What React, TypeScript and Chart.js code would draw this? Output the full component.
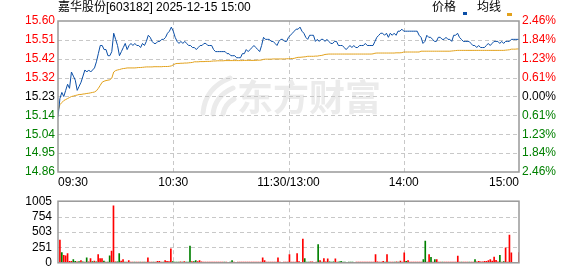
import React, { useEffect, useRef } from 'react';
import { Chart, registerables } from 'chart.js';

Chart.register(...registerables);

const FONT = '"Liberation Sans", Arial, "Noto Sans CJK SC", sans-serif';

const TITLE = '嘉华股份[603182] 2025-12-15 15:00';
const LEGEND_PRICE = '价格';
const LEGEND_AVG = '均线';
const WATERMARK = '东方财富';

const timeTickValues = [0, 60, 120, 180, 240];
const timeTickLabels = ['09:30', '10:30', '11:30/13:00', '14:00', '15:00'];

const priceMin = 14.86;
const priceMax = 15.6;
const priceTickLabels = ['14.86', '14.95', '15.04', '15.14', '15.23', '15.32', '15.42', '15.51', '15.60'];
const pctTickLabels = ['2.46%', '1.84%', '1.23%', '0.61%', '0.00%', '0.61%', '1.23%', '1.84%', '2.46%'];

const volMax = 1005;
const volTickLabels = ['0', '251', '503', '754', '1005'];

const prices = [
  15.13, 15.22, 15.25, 15.23, 15.26, 15.29, 15.27, 15.35, 15.33, 15.31,
  15.26, 15.28, 15.30, 15.33, 15.36, 15.35, 15.36, 15.35, 15.36, 15.37,
  15.40, 15.44, 15.48, 15.48, 15.46, 15.46, 15.43, 15.43, 15.45, 15.54,
  15.51, 15.48, 15.43, 15.45, 15.47, 15.49, 15.46, 15.48, 15.49, 15.48,
  15.49, 15.48, 15.48, 15.47, 15.49, 15.48, 15.50, 15.53, 15.52, 15.50,
  15.49, 15.49, 15.50, 15.50, 15.51, 15.51, 15.52, 15.54, 15.55, 15.57,
  15.55, 15.52, 15.50, 15.49, 15.50, 15.49, 15.50, 15.49, 15.48, 15.48,
  15.47, 15.47, 15.46, 15.47, 15.48, 15.48, 15.49, 15.49, 15.48, 15.48,
  15.48, 15.46, 15.45, 15.45, 15.45, 15.45, 15.45, 15.45, 15.44, 15.44,
  15.43, 15.43, 15.43, 15.42, 15.42, 15.42, 15.44, 15.44, 15.46, 15.45,
  15.46, 15.47, 15.48, 15.47, 15.46, 15.45, 15.48, 15.52, 15.51, 15.51,
  15.51, 15.50, 15.50, 15.49, 15.48, 15.50, 15.51, 15.51, 15.50, 15.50,
  15.52, 15.53, 15.54, 15.55, 15.56, 15.56, 15.57, 15.55, 15.54, 15.52,
  15.51, 15.53, 15.53, 15.53, 15.50, 15.51, 15.50, 15.51, 15.51, 15.50,
  15.51, 15.50, 15.49, 15.49, 15.50, 15.50, 15.48, 15.48, 15.48, 15.47,
  15.46, 15.47, 15.48, 15.47, 15.48, 15.47, 15.47, 15.48, 15.48, 15.48,
  15.49, 15.48, 15.48, 15.48, 15.48, 15.50, 15.52, 15.53, 15.54, 15.54,
  15.53, 15.54, 15.52, 15.54, 15.53, 15.54, 15.53, 15.55, 15.55, 15.56,
  15.55, 15.55, 15.55, 15.55, 15.55, 15.55, 15.55, 15.55, 15.53, 15.52,
  15.49, 15.50, 15.53, 15.52, 15.52, 15.51, 15.50, 15.50, 15.52, 15.52,
  15.51, 15.51, 15.52, 15.51, 15.51, 15.50, 15.53, 15.53, 15.54, 15.52,
  15.51, 15.50, 15.50, 15.50, 15.50, 15.49, 15.48, 15.48, 15.47, 15.48,
  15.47, 15.47, 15.47, 15.48, 15.49, 15.48, 15.49, 15.50, 15.50, 15.50,
  15.49, 15.50, 15.49, 15.50, 15.50, 15.50, 15.51, 15.51, 15.51, 15.51, 15.51,
];

const avgPrices = [
  15.16, 15.19, 15.2, 15.21, 15.215, 15.22, 15.225, 15.23, 15.232, 15.235,
  15.237, 15.24, 15.24, 15.242, 15.243, 15.245, 15.246, 15.248, 15.25, 15.252,
  15.258, 15.27, 15.285, 15.3, 15.305, 15.308, 15.31, 15.312, 15.32, 15.35,
  15.357, 15.36, 15.362, 15.365, 15.367, 15.368, 15.37, 15.37, 15.37, 15.37,
  15.37, 15.371, 15.372, 15.372, 15.373, 15.374, 15.375, 15.375, 15.375, 15.375,
  15.376, 15.376, 15.376, 15.376, 15.376, 15.377, 15.377, 15.377, 15.378, 15.38,
  15.385, 15.39, 15.392, 15.392, 15.393, 15.393, 15.394, 15.394, 15.395, 15.396,
  15.397, 15.4, 15.4, 15.4, 15.401, 15.401, 15.401, 15.402, 15.402, 15.402,
  15.403, 15.404, 15.404, 15.405, 15.405, 15.405, 15.405, 15.406, 15.406, 15.406,
  15.406, 15.406, 15.406, 15.406, 15.406, 15.406, 15.406, 15.407, 15.407, 15.407,
  15.407, 15.407, 15.407, 15.407, 15.408, 15.408, 15.409, 15.412, 15.413, 15.413,
  15.413, 15.413, 15.414, 15.414, 15.414, 15.414, 15.414, 15.414, 15.414, 15.415,
  15.415, 15.416, 15.416, 15.417, 15.42, 15.422, 15.422, 15.423, 15.424, 15.425,
  15.427, 15.427, 15.427, 15.427, 15.428, 15.428, 15.43, 15.431, 15.433, 15.436,
  15.437, 15.438, 15.438, 15.438, 15.438, 15.438, 15.438, 15.438, 15.438, 15.438,
  15.438, 15.438, 15.438, 15.438, 15.438, 15.438, 15.438, 15.438, 15.438, 15.438,
  15.438, 15.438, 15.438, 15.438, 15.439, 15.442, 15.443, 15.443, 15.443, 15.443,
  15.443, 15.443, 15.443, 15.443, 15.443, 15.443, 15.444, 15.444, 15.444, 15.445,
  15.448, 15.448, 15.448, 15.448, 15.448, 15.448, 15.448, 15.448, 15.448, 15.452,
  15.452, 15.452, 15.452, 15.452, 15.452, 15.452, 15.452, 15.452, 15.452, 15.452,
  15.452, 15.452, 15.452, 15.452, 15.452, 15.453, 15.454, 15.455, 15.456, 15.456,
  15.456, 15.456, 15.456, 15.456, 15.456, 15.456, 15.456, 15.456, 15.456, 15.456,
  15.456, 15.456, 15.456, 15.456, 15.456, 15.456, 15.456, 15.456, 15.456, 15.456,
  15.456, 15.456, 15.456, 15.457, 15.458, 15.459, 15.462, 15.462, 15.462, 15.463, 15.463,
];

const volumes = [
  371, 167, 122, 113, 149, 25, 25, 54, 25, 15,
  20, 36, 15, 10, 81, 15, 68, 20, 30, 15,
  136, 68, 68, 27, 12, 12, 113, 190, 928, 15,
  15, 149, 30, 54, 12, 12, 36, 12, 12, 12,
  12, 12, 12, 12, 12, 12, 81, 12, 12, 12,
  12, 25, 25, 12, 12, 36, 25, 20, 227, 20,
  12, 12, 12, 15, 12, 20, 12, 12, 272, 20,
  20, 36, 20, 36, 15, 12, 12, 12, 12, 12,
  12, 12, 12, 12, 12, 12, 12, 12, 0, 12,
  36, 12, 0, 12, 12, 12, 12, 12, 12, 12,
  12, 12, 12, 12, 12, 12, 81, 36, 12, 12,
  12, 12, 12, 12, 81, 12, 0, 12, 12, 12,
  136, 12, 12, 12, 149, 20, 0, 385, 68, 12,
  12, 15, 15, 0, 12, 299, 36, 12, 68, 15,
  63, 15, 12, 15, 63, 12, 15, 25, 12, 12,
  0, 12, 12, 12, 0, 12, 12, 12, 12, 12,
  12, 12, 12, 12, 12, 136, 15, 12, 12, 25,
  12, 136, 12, 12, 12, 12, 15, 12, 30, 12,
  163, 25, 36, 12, 12, 12, 12, 12, 12, 12,
  54, 353, 12, 136, 91, 12, 54, 54, 12, 12,
  12, 12, 12, 12, 12, 12, 12, 12, 109, 12,
  12, 12, 12, 12, 12, 12, 12, 54, 15, 25,
  15, 15, 25, 25, 36, 54, 30, 95, 40, 15,
  122, 12, 20, 245, 10, 453, 163, 0, 0, 0, 167,
];

// 1 = up (red), 0 = down (green)
const volUp = [
  1, 0, 1, 1, 1, 1, 1, 0, 0, 1,
  0, 1, 0, 1, 0, 1, 1, 0, 1, 0,
  1, 1, 1, 0, 1, 0, 0, 1, 1, 1,
  0, 0, 1, 1, 0, 1, 1, 1, 1, 0,
  1, 1, 0, 1, 0, 1, 1, 1, 1, 0,
  1, 1, 1, 1, 0, 1, 1, 1, 1, 0,
  0, 0, 0, 1, 0, 1, 0, 0, 0, 1,
  0, 0, 1, 1, 1, 1, 1, 1, 1, 1,
  1, 1, 1, 1, 1, 1, 0, 1, 1, 0,
  0, 1, 1, 1, 1, 1, 1, 1, 1, 1,
  1, 1, 1, 1, 1, 1, 1, 1, 1, 1,
  1, 1, 1, 1, 1, 1, 1, 1, 1, 1,
  1, 1, 1, 1, 1, 1, 1, 1, 0, 0,
  0, 1, 1, 1, 1, 0, 1, 0, 1, 1,
  1, 0, 0, 0, 1, 1, 0, 0, 0, 0,
  0, 0, 0, 0, 0, 1, 1, 1, 1, 1,
  1, 1, 1, 1, 1, 1, 1, 1, 1, 1,
  0, 1, 0, 1, 1, 0, 1, 0, 1, 1,
  1, 0, 1, 1, 1, 1, 1, 1, 1, 1,
  0, 0, 1, 1, 0, 1, 0, 1, 1, 1,
  0, 1, 1, 1, 1, 1, 1, 1, 1, 1,
  0, 1, 1, 1, 0, 1, 1, 0, 1, 1,
  1, 1, 1, 1, 1, 1, 1, 1, 1, 1,
  0, 1, 0, 1, 1, 1, 1, 1, 1, 1, 1,
];

const RED = '#ff0000';
const GREEN = '#008000';
const PRICE_COLOR = '#0a4ea6';
const AVG_COLOR = '#e2a11b';
const GRID = '#c8c8c8';
const FRAME = '#999999';

export default function App() {
  const mainRef = useRef<HTMLCanvasElement>(null);
  const volRef = useRef<HTMLCanvasElement>(null);

  useEffect(() => {
    document.body.style.margin = '0';
    Chart.defaults.font.family = FONT;
    Chart.defaults.font.size = 12;

    const labelColor = (i: number) => (i > 4 ? RED : i < 4 ? GREEN : '#000000');

    const framePlugin = {
      id: 'frame',
      afterDatasetsDraw(chart: any) {
        const { ctx, chartArea: a } = chart;
        ctx.save();
        ctx.strokeStyle = FRAME;
        ctx.lineWidth = 1.5;
        ctx.strokeRect(a.left, a.top, a.right - a.left, a.bottom - a.top);
        ctx.restore();
      },
    };

    // dashed grid drawn from the scales' own tick positions
    const makeGridPlugin = (xScaleOf: (chart: any) => any) => ({
      id: 'dashGrid',
      beforeDatasetsDraw(chart: any) {
        const { ctx, chartArea: a } = chart;
        const ys = chart.scales.y;
        const xs = xScaleOf(chart);
        ctx.save();
        ctx.strokeStyle = GRID;
        ctx.lineWidth = 1;
        ctx.setLineDash([4, 3]);
        ys.ticks.forEach((t: any, i: number) => {
          if (i === 0 || i === ys.ticks.length - 1) return;
          const y = Math.round(ys.getPixelForValue(t.value)) + 0.5;
          ctx.beginPath();
          ctx.moveTo(a.left, y);
          ctx.lineTo(a.right, y);
          ctx.stroke();
        });
        timeTickValues.forEach((v, i) => {
          if (i === 0 || i === timeTickValues.length - 1) return;
          const x = Math.round(xs.getPixelForValue(v)) + 0.5;
          ctx.beginPath();
          ctx.moveTo(x, a.top);
          ctx.lineTo(x, a.bottom);
          ctx.stroke();
        });
        ctx.restore();
      },
    });

    const watermarkPlugin = {
      id: 'watermark',
      beforeDatasetsDraw(chart: any) {
        const { ctx, chartArea: a } = chart;
        ctx.save();
        ctx.beginPath();
        ctx.rect(a.left, a.top, a.right - a.left, a.bottom - a.top);
        ctx.clip();
        ctx.fillStyle = '#ebebeb';
        ctx.strokeStyle = '#ebebeb';
        ctx.font = 'bold 36px "Noto Sans CJK SC", sans-serif';
        ctx.textBaseline = 'middle';
        ctx.textAlign = 'left';
        ctx.fillText(WATERMARK, 237, 97);
        ctx.lineCap = 'round';
        ctx.lineWidth = 5;
        const cx = 200;
        ctx.beginPath();
        ctx.moveTo(cx + 3, 113);
        ctx.quadraticCurveTo(cx + 5, 88, cx + 30, 78);
        ctx.stroke();
        ctx.beginPath();
        ctx.moveTo(cx + 13, 114);
        ctx.quadraticCurveTo(cx + 15, 96, cx + 33, 88);
        ctx.stroke();
        ctx.beginPath();
        ctx.moveTo(cx + 23, 114);
        ctx.quadraticCurveTo(cx + 25, 104, cx + 34, 99);
        ctx.stroke();
        ctx.restore();
      },
    };

    const headerPlugin = {
      id: 'header',
      afterDraw(chart: any) {
        const { ctx, chartArea: a } = chart;
        ctx.save();
        ctx.font = '12px ' + FONT;
        ctx.textBaseline = 'middle';
        ctx.textAlign = 'left';
        ctx.fillStyle = '#000000';
        ctx.fillText(TITLE, a.left, 8);
        ctx.fillText(LEGEND_PRICE, 432, 8);
        ctx.fillStyle = PRICE_COLOR;
        ctx.fillRect(463, 12, 4, 3);
        ctx.fillStyle = '#000000';
        ctx.fillText(LEGEND_AVG, 477, 8);
        ctx.fillStyle = AVG_COLOR;
        ctx.fillRect(507, 13, 5, 3);
        ctx.restore();
      },
    };

    const priceTickValues = priceTickLabels.map(
      (_, i) => priceMin + ((priceMax - priceMin) * i) / (priceTickLabels.length - 1)
    );
    const volTickValues = volTickLabels.map((_, i) => (volMax * i) / (volTickLabels.length - 1));

    const main = new Chart(mainRef.current as HTMLCanvasElement, {
      type: 'line',
      data: {
        datasets: [
          {
            label: LEGEND_PRICE,
            data: prices.map((y, i) => ({ x: i, y })),
            borderColor: PRICE_COLOR,
            borderWidth: 1,
            pointRadius: 0,
            tension: 0,
            yAxisID: 'y',
          },
          {
            label: LEGEND_AVG,
            data: avgPrices.map((y, i) => ({ x: i, y })),
            borderColor: AVG_COLOR,
            borderWidth: 1,
            pointRadius: 0,
            tension: 0,
            yAxisID: 'y',
          },
        ],
      },
      options: {
        animation: false,
        responsive: false,
        maintainAspectRatio: false,
        events: [],
        layout: { padding: { top: 21, left: 0, right: 0, bottom: 0 } },
        plugins: { legend: { display: false }, tooltip: { enabled: false } },
        scales: {
          x: {
            type: 'linear',
            min: 0,
            max: 240,
            afterBuildTicks: (s: any) => {
              s.ticks = timeTickValues.map((v) => ({ value: v }));
            },
            afterFit: (s: any) => {
              s.height = 16;
            },
            ticks: {
              callback: (_v: any, i: number) => timeTickLabels[i],
              align: 'inner',
              maxRotation: 0,
              autoSkip: false,
              color: '#000000',
              padding: 3,
            },
            grid: { display: false, drawTicks: false },
            border: { display: false },
          },
          y: {
            position: 'left',
            min: priceMin,
            max: priceMax,
            afterBuildTicks: (s: any) => {
              s.ticks = priceTickValues.map((v) => ({ value: v }));
            },
            afterFit: (s: any) => {
              s.width = 58;
            },
            ticks: {
              callback: (_v: any, i: number) => priceTickLabels[i],
              color: (c: any) => labelColor(c.index),
              padding: 3,
            },
            grid: { display: false, drawTicks: false },
            border: { display: false },
          },
          yr: {
            position: 'right',
            min: priceMin,
            max: priceMax,
            afterBuildTicks: (s: any) => {
              s.ticks = priceTickValues.map((v) => ({ value: v }));
            },
            afterFit: (s: any) => {
              s.width = 59;
            },
            ticks: {
              callback: (_v: any, i: number) => pctTickLabels[i],
              color: (c: any) => labelColor(c.index),
              padding: 3,
            },
            grid: { display: false, drawTicks: false },
            border: { display: false },
          },
        },
      } as any,
      plugins: [watermarkPlugin, makeGridPlugin((c: any) => c.scales.x), framePlugin, headerPlugin],
    });

    const vol = new Chart(volRef.current as HTMLCanvasElement, {
      type: 'bar',
      data: {
        datasets: [
          {
            data: volumes.map((y, i) => ({ x: i, y })),
            backgroundColor: volUp.map((u) => (u ? RED : GREEN)),
            barThickness: 1,
            borderWidth: 0,
          },
        ],
      },
      options: {
        animation: false,
        responsive: false,
        maintainAspectRatio: false,
        events: [],
        layout: { padding: { top: 8, left: 0, right: 59, bottom: 0 } },
        plugins: { legend: { display: false }, tooltip: { enabled: false } },
        scales: {
          x: {
            type: 'linear',
            min: -1,
            max: 240,
            offset: false,
            afterBuildTicks: (s: any) => {
              s.ticks = timeTickValues.map((v) => ({ value: v }));
            },
            afterFit: (s: any) => {
              s.height = 6;
            },
            ticks: { display: false },
            grid: { display: false, drawTicks: false, offset: false },
            border: { display: false },
          },
          y: {
            min: 0,
            max: volMax,
            afterBuildTicks: (s: any) => {
              s.ticks = volTickValues.map((v) => ({ value: v }));
            },
            afterFit: (s: any) => {
              s.width = 58;
            },
            ticks: {
              callback: (_v: any, i: number) => volTickLabels[i],
              color: '#000000',
              padding: 6,
            },
            grid: { display: false, drawTicks: false },
            border: { display: false },
          },
        },
      } as any,
      plugins: [makeGridPlugin(() => main.scales.x), framePlugin],
    });

    return () => {
      main.destroy();
      vol.destroy();
    };
  }, []);

  return (
    <div
      style={{
        position: 'fixed',
        left: 0,
        top: 0,
        width: 578,
        height: 276,
        background: '#ffffff',
      }}
    >
      <canvas ref={mainRef} width={578} height={188} style={{ display: 'block' }} />
      <canvas ref={volRef} width={578} height={88} style={{ display: 'block' }} />
    </div>
  );
}
